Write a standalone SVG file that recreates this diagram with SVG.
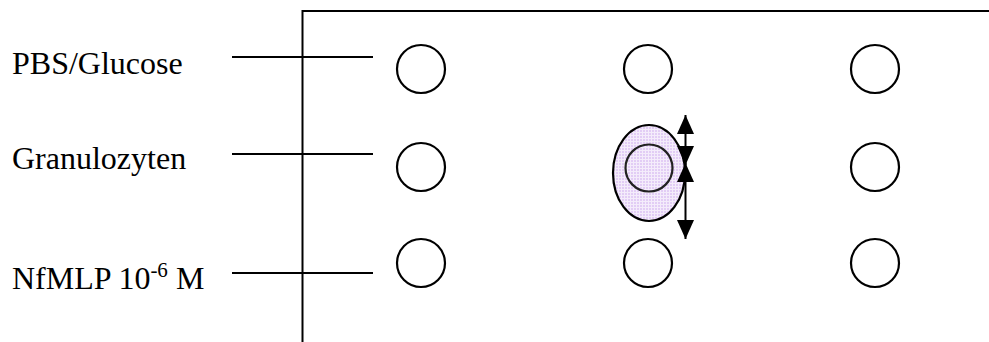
<svg xmlns="http://www.w3.org/2000/svg" width="989" height="342" viewBox="0 0 989 342">
<style>
.lbl{font-family:"Liberation Serif","Times New Roman",serif;font-size:32px;fill:#000}
.ln{stroke:#000;stroke-width:2;fill:none}
.well{fill:#fff;stroke:#000;stroke-width:2.2}
</style>
<defs>
<pattern id="grid" width="3" height="3" patternUnits="userSpaceOnUse">
<rect width="3" height="3" fill="#e2cdf5"/>
<path d="M0 0.5H3M0.5 0V3" stroke="#f4ecfb" stroke-width="1"/>
</pattern>
<marker id="ah" viewBox="0 0 10 10" refX="10" refY="5" markerWidth="19" markerHeight="17" markerUnits="userSpaceOnUse" orient="auto" preserveAspectRatio="none">
<path d="M0 0L10 5L0 10z" fill="#000"/>
</marker>
</defs>
<g id="frame">
<path class="ln" d="M302.5 342V11H989"/>
</g>
<g id="labels">
<text class="lbl" x="12" y="74">PBS/Glucose</text>
<text class="lbl" x="12" y="169">Granulozyten</text>
<text class="lbl" x="12" y="289">NfMLP 10<tspan font-size="21" dy="-12">-6</tspan><tspan dy="12"> M</tspan></text>
</g>
<g id="connectors">
<line class="ln" x1="232" y1="57" x2="373" y2="57"/>
<line class="ln" x1="232" y1="154" x2="373" y2="154"/>
<line class="ln" x1="232" y1="273" x2="373" y2="273"/>
</g>
<g id="wells">
<circle class="well" cx="421" cy="69" r="24"/>
<circle class="well" cx="648" cy="69" r="24"/>
<circle class="well" cx="875" cy="69" r="24"/>
<circle class="well" cx="421" cy="167" r="24"/>
<circle class="well" cx="875" cy="167" r="24"/>
<circle class="well" cx="421" cy="263" r="24"/>
<circle class="well" cx="648" cy="263" r="24"/>
<circle class="well" cx="875" cy="263" r="24"/>
</g>
<g id="cell">
<ellipse cx="649" cy="173" rx="36" ry="48" fill="url(#grid)" stroke="#000" stroke-width="2.2"/>
<circle cx="649" cy="168" r="23.5" fill="none" stroke="#222" stroke-width="2.2"/>
</g>
<g id="arrows">
<line class="ln" x1="685.5" y1="140" x2="685.5" y2="115" marker-end="url(#ah)"/>
<line class="ln" x1="685.5" y1="140" x2="685.5" y2="165" marker-end="url(#ah)"/>
<line class="ln" x1="685.5" y1="200" x2="685.5" y2="163" marker-end="url(#ah)"/>
<line class="ln" x1="685.5" y1="200" x2="685.5" y2="239" marker-end="url(#ah)"/>
</g>
</svg>
